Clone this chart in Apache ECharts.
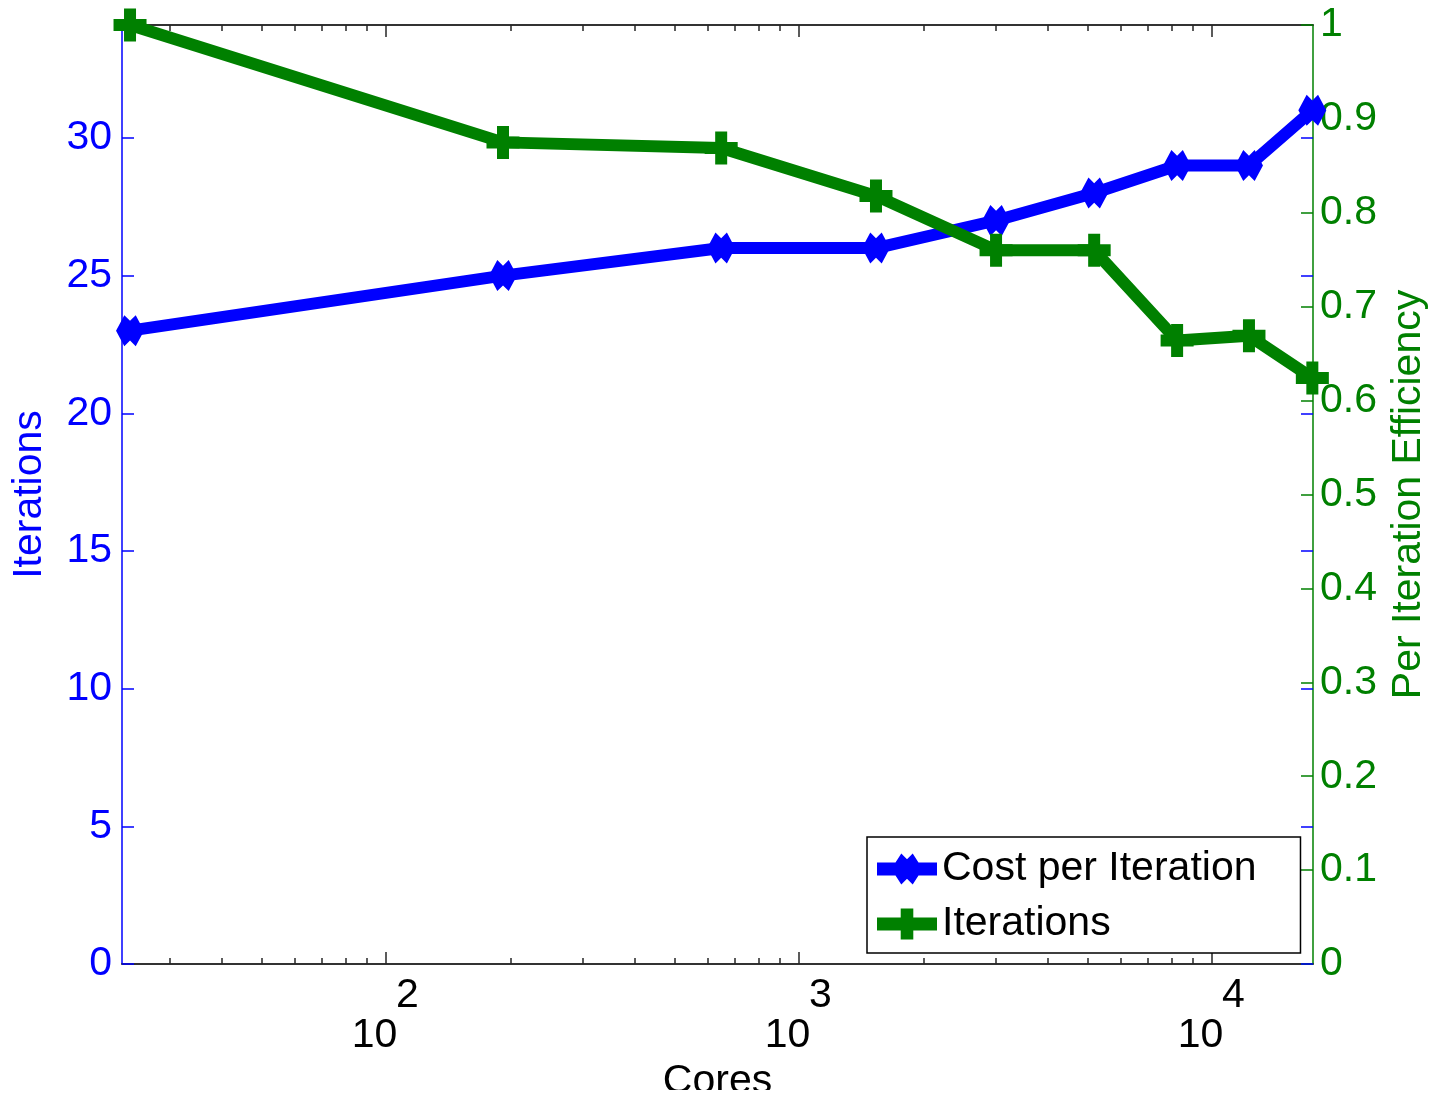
<!DOCTYPE html>
<html><head><meta charset="utf-8">
<script src="https://cdn.jsdelivr.net/npm/echarts@6/dist/echarts.min.js"></script>
<style>html,body{margin:0;padding:0;background:#fff;overflow:hidden}#c{width:1439px;height:1098px}</style>
</head><body><div id="c"></div>
<script>
// ---- data ----
const cores = [24, 192, 648, 1536, 3000, 5184, 8232, 12288, 17496];
const costPerIteration = [23, 25, 26, 26, 27, 28, 29, 29, 31];
const efficiency = [1.0, 0.875, 0.869, 0.818, 0.760, 0.760, 0.664, 0.669, 0.624];
const xMajorTicks = [100, 1000, 10000];
const xMinorTicks = [30, 40, 50, 60, 70, 80, 90, 200, 300, 400, 500, 600, 700, 800, 900,
  2000, 3000, 4000, 5000, 6000, 7000, 8000, 9000];
const leftTicks = [0, 5, 10, 15, 20, 25, 30];
const rightTicks = [0, 0.1, 0.2, 0.3, 0.4, 0.5, 0.6, 0.7, 0.8, 0.9, 1];
const xMin = 22.95, xMax = 17560;
const leftMax = 34.1;

const FONT = '"Liberation Sans", Arial, Helvetica, sans-serif';
const BLUE = '#0000ff', GREEN = '#008000', BLACK = '#262626';

const diamondPath = 'path://M0,15.5L8.3,0L14,5.7L19.7,0L28,15.5L19.7,31L14,25.3L8.3,31Z';
const plusPath = 'path://M10.5,0H22.5V10.5H33V22.5H22.5V33H10.5V22.5H0V10.5H10.5Z';
const legendBlue = 'path://M0,9H18.5L24.3,0L30,5.7L35.7,0L41.5,9H60V22H41.5L35.7,31L30,25.3L24.3,31L18.5,22H0Z';
const legendGreen = 'path://M0,9H23.7V0H36.3V9H60V22H36.3V31H23.7V22H0Z';

function xAx(pos, ticks, len, withLabel) {
  const ax = {
    type: 'log', logBase: 10, min: xMin, max: xMax, position: pos, gridIndex: 0,
    axisLine: { show: true, onZero: false, lineStyle: { color: BLACK, width: 1.5 } },
    axisTick: { show: true, inside: true, length: len, customValues: ticks, lineStyle: { color: BLACK, width: 1.5 } },
    minorTick: { show: false }, splitLine: { show: false },
    axisLabel: { show: false }
  };
  if (withLabel) {
    ax.name = 'Cores';
    ax.nameLocation = 'middle';
    ax.nameGap = 114;
    ax.nameTextStyle = { color: '#000', fontSize: 41, fontFamily: FONT, verticalAlign: 'middle' };
    ax.axisLabel = {
      show: true, customValues: xMajorTicks, margin: 12,
      formatter: function (v) {
        return '{e|' + Math.round(Math.log10(v)) + '}\n{b|10}';
      },
      rich: {
        e: { fontSize: 41, fontFamily: FONT, color: '#000', lineHeight: 40, height: 40, padding: [0, 0, 0, 43] },
        b: { fontSize: 41, fontFamily: FONT, color: '#000', lineHeight: 40, height: 40, padding: [0, 23, 0, 0] }
      }
    };
  }
  return ax;
}

const option = {
  backgroundColor: '#fff',
  animation: false,
  grid: { left: 122, right: 126, top: 25, bottom: 134, containLabel: false, outerBoundsMode: 'none' },
  legend: {
    orient: 'vertical', left: 867, top: 837,
    padding: [10, 44, 7, 10], itemGap: 11, itemWidth: 60, itemHeight: 31,
    backgroundColor: '#fff', borderColor: '#000', borderWidth: 1.5,
    textStyle: { fontSize: 41, fontFamily: FONT, color: '#000', lineHeight: 44 },
    itemStyle: { borderWidth: 0 },
    data: [
      { name: 'Cost per Iteration', icon: legendBlue },
      { name: 'Iterations', icon: legendGreen }
    ]
  },
  xAxis: [
    xAx('bottom', xMajorTicks, 12, true),
    xAx('bottom', xMinorTicks, 6, false),
    xAx('top', xMajorTicks, 12, false),
    xAx('top', xMinorTicks, 6, false)
  ],
  yAxis: [
    {
      type: 'value', position: 'left', min: 0, max: leftMax,
      name: 'Iterations', nameLocation: 'middle', nameGap: 92, nameRotate: 90,
      nameTextStyle: { color: BLUE, fontSize: 41, fontFamily: FONT, verticalAlign: 'middle' },
      axisLine: { show: true, onZero: false, lineStyle: { color: BLUE, width: 1.5 } },
      axisTick: { show: true, inside: true, length: 12, customValues: leftTicks, lineStyle: { color: BLUE, width: 1.5 } },
      axisLabel: { show: true, customValues: leftTicks, margin: 10, color: BLUE, fontSize: 41, fontFamily: FONT },
      splitLine: { show: false }
    },
    {
      type: 'value', position: 'right', min: 0, max: 1,
      name: 'Per Iteration Efficiency', nameLocation: 'middle', nameGap: 92, nameRotate: 90,
      nameTextStyle: { color: GREEN, fontSize: 41, fontFamily: FONT, verticalAlign: 'middle' },
      axisLine: { show: true, onZero: false, lineStyle: { color: GREEN, width: 1.5 } },
      axisTick: { show: true, inside: true, length: 12, customValues: rightTicks, lineStyle: { color: GREEN, width: 1.5 } },
      axisLabel: { show: true, customValues: rightTicks, margin: 7, color: GREEN, fontSize: 41, fontFamily: FONT,
        formatter: function (v) { return String(Math.round(v * 10) / 10); } },
      splitLine: { show: false }
    },
    {
      type: 'value', position: 'right', min: 0, max: leftMax,
      axisLine: { show: false, onZero: false },
      axisTick: { show: true, inside: true, length: 12, customValues: leftTicks, lineStyle: { color: BLUE, width: 1.5 } },
      axisLabel: { show: false },
      splitLine: { show: false }
    }
  ],
  graphic: [
    { type: 'rect', left: 0, top: 1090, shape: { width: 1439, height: 8 }, style: { fill: '#fff' }, z: 100 }
  ],
  series: [
    {
      name: 'Cost per Iteration', type: 'line', xAxisIndex: 0, yAxisIndex: 0,
      data: cores.map((c, i) => [c, costPerIteration[i]]),
      color: BLUE, lineStyle: { width: 12, color: BLUE }, itemStyle: { color: BLUE },
      symbol: diamondPath, symbolSize: [28, 31], showSymbol: true, showAllSymbol: true, clip: false, z: 3
    },
    {
      name: 'Iterations', type: 'line', xAxisIndex: 0, yAxisIndex: 1,
      data: cores.map((c, i) => [c, efficiency[i]]),
      color: GREEN, lineStyle: { width: 12, color: GREEN }, itemStyle: { color: GREEN },
      symbol: plusPath, symbolSize: 33, showSymbol: true, showAllSymbol: true, clip: false, z: 4
    }
  ]
};

const chart = echarts.init(document.getElementById('c'), null, { renderer: 'canvas' });
chart.setOption(option);
</script>
</body></html>
